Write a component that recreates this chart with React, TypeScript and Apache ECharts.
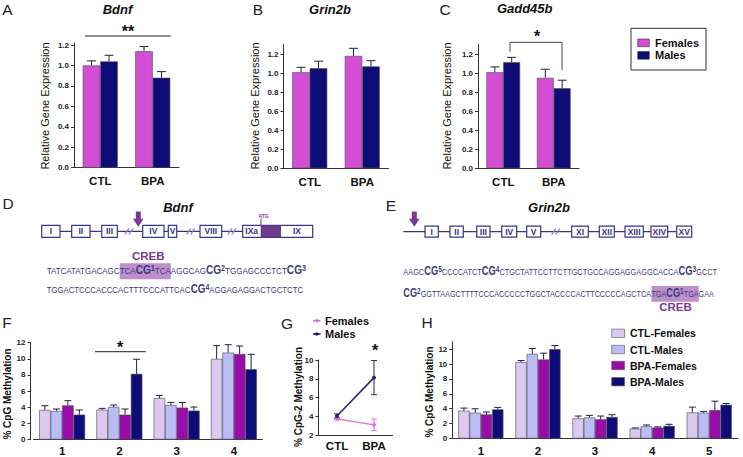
import React, { useEffect, useRef } from 'react';
import * as echarts from 'echarts';

const FONT = '"Liberation Sans", Arial, Helvetica, sans-serif';

// ---------- Panels A–C : relative gene expression ----------
const exprCategories = ['CTL', 'BPA'];
const bdnfFemales = [1.0, 1.14];
const bdnfFemalesSem = [0.045, 0.045];
const bdnfMales = [1.04, 0.88];
const bdnfMalesSem = [0.06, 0.06];
const grin2bFemales = [1.01, 1.18];
const grin2bFemalesSem = [0.05, 0.08];
const grin2bMales = [1.05, 1.07];
const grin2bMalesSem = [0.075, 0.06];
const gadd45bFemales = [1.01, 0.95];
const gadd45bFemalesSem = [0.055, 0.09];
const gadd45bMales = [1.115, 0.84];
const gadd45bMalesSem = [0.05, 0.085];
const exprTicks = [0, 0.2, 0.4, 0.6, 0.8, 1.0, 1.2];

// ---------- Panel F : Bdnf CpG methylation ----------
const bdnfCpgCategories = ['1', '2', '3', '4'];
const bdnfCtlFemales = [3.66, 3.7, 5.14, 9.99];
const bdnfCtlFemalesSem = [0.53, 0.16, 0.33, 1.64];
const bdnfCtlMales = [3.53, 4.03, 4.27, 10.77];
const bdnfCtlMalesSem = [0.25, 0.24, 0.33, 0.98];
const bdnfBpaFemales = [4.23, 3.08, 3.95, 10.6];
const bdnfBpaFemalesSem = [0.58, 0.7, 0.65, 0.99];
const bdnfBpaMales = [3.08, 8.14, 3.58, 8.71];
const bdnfBpaMalesSem = [0.58, 1.81, 0.45, 1.85];
const methTicks = [0, 2, 4, 6, 8, 10, 12];

// ---------- Panel G : CpG-2 interaction ----------
const cpg2Categories = ['CTL', 'BPA'];
const cpg2Females = [3.72, 3.08];
const cpg2FemalesSem = [0.12, 0.62];
const cpg2Males = [4.03, 8.12];
const cpg2MalesSem = [0.22, 1.82];
const cpg2Ticks = [2, 4, 6, 8, 10];

// ---------- Panel H : Grin2b CpG methylation ----------
const grin2bCpgCategories = ['1', '2', '3', '4', '5'];
const grinCtlFemales = [3.73, 10.27, 2.71, 1.33, 3.51];
const grinCtlFemalesSem = [0.36, 0.22, 0.31, 0.09, 0.71];
const grinCtlMales = [3.47, 11.38, 2.84, 1.64, 3.47];
const grinCtlMalesSem = [0.53, 0.71, 0.27, 0.18, 0.17];
const grinBpaFemales = [3.24, 10.62, 2.58, 1.47, 3.82];
const grinBpaFemalesSem = [0.32, 0.85, 0.44, 0.09, 1.2];
const grinBpaMales = [3.91, 12.0, 2.89, 1.69, 4.53];
const grinBpaMalesSem = [0.27, 0.49, 0.31, 0.22, 0.18];

const sexLabels = ['Females', 'Males'];
const groupLabels = ['CTL-Females', 'CTL-Males', 'BPA-Females', 'BPA-Males'];

// ---------- Panels D–E : gene maps and sequences ----------
const bdnfExons = ['I', 'II', 'III', 'IV', 'V', 'VIII', 'IXa', 'IX'];
const grin2bExons = ['I', 'II', 'III', 'IV', 'V', 'XI', 'XII', 'XIII', 'XIV', 'XV'];
type Seg = [string, string];
const bdnfSeq1: Seg[] = [['n', 'TATCATATGACAGC'], ['n', 'TCA'], ['b', 'CG'], ['s', '1'], ['n', 'TCA'], ['n', 'AGGCAG'], ['b', 'CG'], ['s', '2'], ['n', 'TGGAGCCCTCT'], ['b', 'CG'], ['s', '3']];
const bdnfSeq2: Seg[] = [['n', 'TGGACTCCCACCCACTTTCCCATTCAC'], ['b', 'CG'], ['s', '4'], ['n', 'AGGAGAGGACTGCTCTC']];
const grin2bSeq1: Seg[] = [['n', 'AAGC'], ['b', 'CG'], ['s', '5'], ['n', 'CCCCATCT'], ['b', 'CG'], ['s', '4'], ['n', 'CTGCTATTCCTTCTTGCTGCCAGGAGGAGGCACCA'], ['b', 'CG'], ['s', '3'], ['n', 'GCCT']];
const grin2bSeq2: Seg[] = [['b', 'CG'], ['s', '2'], ['n', 'GGTTAAGCTTTTCCCACCCCCTGGCTACCCCACTTCCCCCAGCTCA'], ['n', 'TGA'], ['b', 'CG'], ['s', '1'], ['n', 'TGA'], ['n', 'GAA']];

// ---------- colours ----------
const PINK = '#d34ed3';
const NAVY = '#0e0c76';
const CTLF = '#ddc8ee';
const CTLM = '#b9bdf3';
const BPAF = '#9a0ca8';
const BPAM = '#0e0c76';
const INK = '#3b3586';
const SEQ = '#3d3a7e';
const PURPLE = '#7a3a93';
const HL = '#bb90cb';
const ERR = '#23213f';
const AX = '#333333';

function errRenderer(n: number, gap: number, cap: number, color: string, twoSided: boolean) {
  return (params: any, api: any) => {
    const cat = api.value(0);
    const si = api.value(1);
    const lo = api.value(2);
    const hi = api.value(3);
    const band = api.size([1, 0])[0];
    const bw = (band * (1 - gap)) / n;
    const p0 = api.coord([cat, lo]);
    const p1 = api.coord([cat, hi]);
    const x = p0[0] + (si - (n - 1) / 2) * bw;
    const st = { stroke: color, lineWidth: 1 };
    const children: any[] = [
      { type: 'line', shape: { x1: x, y1: p0[1], x2: x, y2: p1[1] }, style: st },
      { type: 'line', shape: { x1: x - cap, y1: p1[1], x2: x + cap, y2: p1[1] }, style: st },
    ];
    if (twoSided) children.push({ type: 'line', shape: { x1: x - cap, y1: p0[1], x2: x + cap, y2: p0[1] }, style: st });
    return { type: 'group', children };
  };
}

function barSeries(g: number, name: string, data: number[], color: string, gap: number) {
  return {
    type: 'bar', name, xAxisIndex: g, yAxisIndex: g, data, silent: true,
    barGap: '0%', barCategoryGap: gap * 100 + '%',
    itemStyle: { color, borderColor: '#4a4a5e', borderWidth: 0.6 },
  };
}

function errSeries(g: number, groups: [number[], number[]][], gap: number, cap: number) {
  const data: number[][] = [];
  groups.forEach(([m, s], si) => m.forEach((v, i) => data.push([i, si, v, v + s[i]])));
  return {
    type: 'custom', xAxisIndex: g, yAxisIndex: g, z: 3, silent: true,
    renderItem: errRenderer(groups.length, gap, cap, ERR, false),
    encode: { x: 0, y: [2, 3] }, data,
  };
}

function catAxis(g: number, data: string[], margin: number) {
  return {
    type: 'category', gridIndex: g, data,
    axisLine: { lineStyle: { color: AX, width: 1 } },
    axisTick: { show: false },
    axisLabel: { margin, fontFamily: FONT, fontWeight: 'bold', fontSize: 11.5, color: '#111' },
    splitLine: { show: false },
  };
}

function valAxis(g: number, min: number, max: number, ticks: number[], dec: number) {
  return {
    type: 'value', gridIndex: g, min, max, splitLine: { show: false },
    axisLine: { show: true, lineStyle: { color: AX, width: 1 } },
    axisTick: { show: true, length: 3, lineStyle: { color: AX, width: 1 }, customValues: ticks },
    axisLabel: {
      customValues: ticks, margin: 5, fontFamily: FONT, fontWeight: 'bold', fontSize: 8, color: '#222',
      formatter: (v: number) => v.toFixed(dec),
    },
  };
}

function txt(x: number, y: number, text: string, size: number, o: any = {}) {
  return {
    type: 'text', x, y, rotation: o.rotation || 0, z: 20, silent: true,
    style: {
      text, fill: o.color || '#111', fontSize: size, fontWeight: o.weight || 'normal',
      fontStyle: o.italic ? 'italic' : 'normal', fontFamily: FONT,
      align: o.align || 'center', textAlign: o.align || 'center',
      verticalAlign: 'middle', textVerticalAlign: 'middle',
    },
  };
}

function rect(x: number, y: number, w: number, h: number, fill: string, stroke?: string, lw = 1, z = 15) {
  return { type: 'rect', z, silent: true, shape: { x, y, width: w, height: h }, style: { fill, stroke: stroke || 'none', lineWidth: lw } };
}
function ln(x1: number, y1: number, x2: number, y2: number, stroke: string, lw = 1, z = 15) {
  return { type: 'line', z, silent: true, shape: { x1, y1, x2, y2 }, style: { stroke, lineWidth: lw } };
}

const SEQ_FONTS: Record<string, { size: number; weight: string }> = {
  n: { size: 9.5, weight: 'normal' },
  b: { size: 12, weight: 'bold' },
  s: { size: 8.5, weight: 'bold' },
};
let measureCtx: CanvasRenderingContext2D | null = null;
function measure(text: string, k: string) {
  if (!measureCtx) measureCtx = document.createElement('canvas').getContext('2d');
  const f = SEQ_FONTS[k];
  measureCtx!.font = `${f.weight} ${f.size}px ${FONT}`;
  return measureCtx!.measureText(text).width;
}
const seqRich = {
  n: { fontSize: 9.5, fontWeight: 'normal', fontFamily: FONT, fill: SEQ, color: SEQ, verticalAlign: 'bottom' },
  b: { fontSize: 12, fontWeight: 'bold', fontFamily: FONT, fill: SEQ, color: SEQ, verticalAlign: 'bottom' },
  s: { fontSize: 8.5, fontWeight: 'bold', fontFamily: FONT, fill: SEQ, color: SEQ, verticalAlign: 'top' },
};
function seqLine(segs: Seg[], x0: number, y: number, targetW: number, hl?: [number, number], hlBox?: [number, number]) {
  const widths = segs.map(([k, t]) => measure(t, k));
  const total = widths.reduce((a, b) => a + b, 0);
  const sc = targetW / total;
  const els: any[] = [];
  if (hl && hlBox) {
    const s = widths.slice(0, hl[0]).reduce((a, b) => a + b, 0);
    const e = widths.slice(0, hl[1] + 1).reduce((a, b) => a + b, 0);
    els.push(rect(x0 + s * sc, hlBox[0], (e - s) * sc, hlBox[1] - hlBox[0], HL, undefined, 1, 12));
  }
  els.push({
    type: 'text', x: x0, y: y - 1, scaleX: sc, z: 20, silent: true,
    style: {
      text: segs.map(([k, t]) => `{${k}|${t}}`).join(''), rich: seqRich,
      fill: SEQ, fontFamily: FONT, fontSize: 9.5,
      align: 'left', textAlign: 'left', verticalAlign: 'middle', textVerticalAlign: 'middle',
    },
  });
  return els;
}

function exonBox(label: string, x0: number, x1: number, y0: number, h: number) {
  return [
    rect(x0, y0, x1 - x0, h, '#ffffff', INK, 1.2, 14),
    txt((x0 + x1) / 2, y0 + h / 2, label, 8.5, { weight: 'bold', color: INK }),
  ];
}
function breakMark(cx: number, y: number) {
  return [
    ln(cx - 5, y + 3, cx - 1, y - 3, '#8d80c0', 1.2, 16),
    ln(cx - 1, y + 3, cx + 3, y - 3, '#8d80c0', 1.2, 16),
  ];
}
function downArrow(cx: number, yTop: number, yBot: number) {
  return {
    type: 'polygon', z: 16, silent: true,
    shape: { points: [[cx - 2.5, yTop], [cx + 2.5, yTop], [cx + 2.5, yBot - 8], [cx + 5.3, yBot - 8], [cx, yBot], [cx - 5.3, yBot - 8], [cx - 2.5, yBot - 8]] },
    style: { fill: PURPLE },
  };
}

function buildGraphics() {
  const g: any[] = [];
  // panel letters
  [['A', 7.5, 9], ['B', 258, 9], ['C', 445, 9], ['D', 8, 203], ['E', 391, 205], ['F', 7, 322], ['G', 287, 323], ['H', 427, 322]].forEach(([t, x, y]) =>
    g.push(txt(x as number, y as number, t as string, 15.5, { color: '#222' })));
  // titles
  g.push(txt(117.5, 9, 'Bdnf', 13, { weight: 'bold', italic: true }));
  g.push(txt(330, 9, 'Grin2b', 13, { weight: 'bold', italic: true }));
  g.push(txt(524.7, 8.5, 'Gadd45b', 13, { weight: 'bold', italic: true }));
  g.push(txt(178, 207.5, 'Bdnf', 13, { weight: 'bold', italic: true }));
  g.push(txt(549, 207.5, 'Grin2b', 13, { weight: 'bold', italic: true }));
  // y-axis names
  g.push(txt(45, 106, 'Relative Gene Expression', 11, { rotation: Math.PI / 2 }));
  g.push(txt(255, 106, 'Relative Gene Expression', 11, { rotation: Math.PI / 2 }));
  g.push(txt(446.5, 106, 'Relative Gene Expression', 11, { rotation: Math.PI / 2 }));
  g.push(txt(7.5, 394, '% CpG Methylation', 10, { rotation: Math.PI / 2, weight: 'bold' }));
  g.push(txt(298.3, 397, '% CpG-2 Methylation', 10, { rotation: Math.PI / 2, weight: 'bold' }));
  g.push(txt(429, 392, '% CpG Methylation', 10, { rotation: Math.PI / 2, weight: 'bold' }));
  // significance
  g.push(ln(85, 36, 170.7, 36, '#222', 1));
  g.push(txt(128, 31, '**', 16, { weight: 'bold' }));
  g.push({ type: 'polyline', z: 15, silent: true, shape: { points: [[510, 51.7], [510, 42.3], [562, 42.3], [562, 70]] }, style: { stroke: '#444', lineWidth: 1, fill: 'none' } });
  g.push(txt(537, 36.5, '*', 16, { weight: 'bold' }));
  g.push(ln(95, 351.7, 145.7, 351.7, '#222', 1));
  g.push(txt(120, 347, '*', 16, { weight: 'bold' }));
  g.push(txt(375, 350.5, '*', 16, { weight: 'bold' }));
  // legend C
  g.push(rect(631, 28.3, 75, 41.7, 'none', '#333', 1));
  g.push(rect(637.7, 39, 11.6, 7.7, PINK, '#333', 0.6));
  g.push(rect(637.7, 51.5, 11.6, 7.7, NAVY, '#333', 0.6));
  g.push(txt(655, 42.8, sexLabels[0], 11, { weight: 'bold', align: 'left' }));
  g.push(txt(655, 55.3, sexLabels[1], 11, { weight: 'bold', align: 'left' }));
  // legend G
  g.push(ln(313, 320.7, 320.5, 320.7, '#e070d8', 1.5));
  g.push({ type: 'circle', z: 16, silent: true, shape: { cx: 316.8, cy: 320.7, r: 1.6 }, style: { fill: '#e070d8' } });
  g.push(ln(313, 334, 320.5, 334, NAVY, 1.5));
  g.push({ type: 'circle', z: 16, silent: true, shape: { cx: 316.8, cy: 334, r: 1.6 }, style: { fill: NAVY } });
  g.push(txt(325, 320.7, sexLabels[0], 11, { weight: 'bold', align: 'left' }));
  g.push(txt(325, 334, sexLabels[1], 11, { weight: 'bold', align: 'left' }));
  // legend H
  const hCols = [CTLF, CTLM, BPAF, BPAM];
  const hY = [333.3, 349.5, 365.5, 381.7];
  groupLabels.forEach((lab, i) => {
    g.push(rect(611.7, hY[i] - 4.2, 12.8, 8.4, hCols[i], '#555', 0.6));
    g.push(txt(630, hY[i], lab, 10.5, { weight: 'bold', align: 'left' }));
  });

  // --- D gene map
  const dY = 231.3, dTop = 225.3, dH = 12;
  g.push(ln(41.7, dY, 312.7, dY, INK, 1.2, 13));
  const dPos: [number, number][] = [[41.7, 60], [71.7, 90], [101.7, 117.3], [142.7, 164], [168.3, 176.7], [200, 221.7]];
  dPos.forEach(([a, b], i) => g.push(...exonBox(bdnfExons[i], a, b, dTop, dH)));
  g.push(rect(242.7, dTop, 70, dH, '#ffffff', INK, 1.2, 14));
  g.push(rect(260.7, dTop, 20.3, dH, '#6a3a8c', undefined, 1, 15));
  g.push(txt(251.7, dTop + dH / 2, bdnfExons[6], 8.5, { weight: 'bold', color: INK }));
  g.push(txt(297, dTop + dH / 2, bdnfExons[7], 8.5, { weight: 'bold', color: INK }));
  [130, 191.7, 233].forEach((cx) => g.push(...breakMark(cx, dY)));
  g.push(txt(263.5, 215.5, 'ATG', 5, { weight: 'bold', color: PURPLE }));
  g.push(ln(261, 218.5, 261, dTop, PURPLE, 1));
  g.push(downArrow(138.3, 211.5, 226.8));
  g.push(txt(148.3, 255.8, 'CREB', 11.5, { weight: 'bold', color: PURPLE }));
  g.push(...seqLine(bdnfSeq1, 46.7, 270.7, 259.3, [1, 4], [263.3, 279.3]));
  g.push(...seqLine(bdnfSeq2, 46.7, 290, 256.6));

  // --- E gene map
  const eY = 231.7, eTop = 226.2, eH = 11;
  g.push(ln(403.3, eY, 691.7, eY, INK, 1.2, 13));
  const ePos: [number, number][] = [[425, 438.3], [450, 463.3], [476.7, 490], [501.7, 516.7], [526.7, 540.7], [571.7, 588.3], [599.3, 614.3], [625, 643.3], [651, 667.7], [676.7, 691.7]];
  ePos.forEach(([a, b], i) => g.push(...exonBox(grin2bExons[i], a, b, eTop, eH)));
  g.push(...breakMark(556.7, eY));
  g.push(downArrow(414.3, 211.5, 226.8));
  g.push(...seqLine(grin2bSeq1, 403.3, 271.7, 313.7));
  g.push(...seqLine(grin2bSeq2, 403.3, 293.3, 310.7, [3, 6], [286, 301.7]));
  g.push(txt(675.5, 306.7, 'CREB', 11.5, { weight: 'bold', color: PURPLE }));
  return g;
}

function buildOption() {
  const gapA = 1 / 3;
  const gapF = 0.197;
  const gapH = 0.21;
  const series: any[] = [
    // A
    barSeries(0, 'Females', bdnfFemales, PINK, gapA),
    barSeries(0, 'Males', bdnfMales, NAVY, gapA),
    errSeries(0, [[bdnfFemales, bdnfFemalesSem], [bdnfMales, bdnfMalesSem]], gapA, 4.5),
    // B
    barSeries(1, 'Females', grin2bFemales, PINK, gapA),
    barSeries(1, 'Males', grin2bMales, NAVY, gapA),
    errSeries(1, [[grin2bFemales, grin2bFemalesSem], [grin2bMales, grin2bMalesSem]], gapA, 4.5),
    // C
    barSeries(2, 'Females', gadd45bFemales, PINK, gapA),
    barSeries(2, 'Males', gadd45bMales, NAVY, gapA),
    errSeries(2, [[gadd45bFemales, gadd45bFemalesSem], [gadd45bMales, gadd45bMalesSem]], gapA, 4.5),
    // F
    barSeries(3, groupLabels[0], bdnfCtlFemales, CTLF, gapF),
    barSeries(3, groupLabels[1], bdnfCtlMales, CTLM, gapF),
    barSeries(3, groupLabels[2], bdnfBpaFemales, BPAF, gapF),
    barSeries(3, groupLabels[3], bdnfBpaMales, BPAM, gapF),
    errSeries(3, [[bdnfCtlFemales, bdnfCtlFemalesSem], [bdnfCtlMales, bdnfCtlMalesSem], [bdnfBpaFemales, bdnfBpaFemalesSem], [bdnfBpaMales, bdnfBpaMalesSem]], gapF, 3.5),
    // G
    {
      type: 'line', name: 'Females ', xAxisIndex: 4, yAxisIndex: 4, data: cpg2Females, silent: true,
      symbol: 'circle', symbolSize: 4, lineStyle: { color: '#e070d8', width: 1.5 }, itemStyle: { color: '#e070d8' },
    },
    {
      type: 'line', name: 'Males ', xAxisIndex: 4, yAxisIndex: 4, data: cpg2Males, silent: true,
      symbol: 'circle', symbolSize: 4, lineStyle: { color: '#26246e', width: 1.5 }, itemStyle: { color: '#26246e' },
    },
    {
      type: 'custom', xAxisIndex: 4, yAxisIndex: 4, z: 3, silent: true,
      renderItem: errRenderer(1, 0, 3, '#e070d8', true), encode: { x: 0, y: [2, 3] },
      data: cpg2Females.map((v, i) => [i, 0, v - cpg2FemalesSem[i], v + cpg2FemalesSem[i]]),
    },
    {
      type: 'custom', xAxisIndex: 4, yAxisIndex: 4, z: 3, silent: true,
      renderItem: errRenderer(1, 0, 3, '#26246e', true), encode: { x: 0, y: [2, 3] },
      data: cpg2Males.map((v, i) => [i, 0, v - cpg2MalesSem[i], v + cpg2MalesSem[i]]),
    },
    // H
    barSeries(5, groupLabels[0] + ' ', grinCtlFemales, CTLF, gapH),
    barSeries(5, groupLabels[1] + ' ', grinCtlMales, CTLM, gapH),
    barSeries(5, groupLabels[2] + ' ', grinBpaFemales, BPAF, gapH),
    barSeries(5, groupLabels[3] + ' ', grinBpaMales, BPAM, gapH),
    errSeries(5, [[grinCtlFemales, grinCtlFemalesSem], [grinCtlMales, grinCtlMalesSem], [grinBpaFemales, grinBpaFemalesSem], [grinBpaMales, grinBpaMalesSem]], gapH, 3.5),
  ];
  return {
    animation: false,
    backgroundColor: '#ffffff',
    grid: [
      { left: 74, top: 43, width: 105, height: 124.7 },
      { left: 283.5, top: 44.5, width: 105, height: 123.8 },
      { left: 478, top: 44.5, width: 101, height: 123.8 },
      { left: 33.5, top: 342.7, width: 229, height: 97.3 },
      { left: 318.5, top: 360, width: 74, height: 75 },
      { left: 452.3, top: 341.8, width: 285.5, height: 97.5 },
    ],
    xAxis: [
      catAxis(0, exprCategories, 7.5),
      catAxis(1, exprCategories, 7.5),
      catAxis(2, exprCategories, 7.5),
      catAxis(3, bdnfCpgCategories, 5.5),
      catAxis(4, cpg2Categories, 5),
      catAxis(5, grin2bCpgCategories, 6.5),
    ],
    yAxis: [
      valAxis(0, 0, 1.22, exprTicks, 1),
      valAxis(1, 0, 1.3, exprTicks, 1),
      valAxis(2, 0, 1.3, exprTicks, 1),
      { ...valAxis(3, 0, 12, methTicks, 0), offset: 3 },
      valAxis(4, 2, 10, cpg2Ticks, 0),
      valAxis(5, 0, 13, methTicks, 0),
    ],
    series,
    graphic: { elements: buildGraphics() },
  };
}

export default function App() {
  const ref = useRef<HTMLDivElement>(null);
  useEffect(() => {
    document.body.style.margin = '0';
    const chart = echarts.init(ref.current!, null, { renderer: 'svg' });
    chart.setOption(buildOption() as any);
    return () => chart.dispose();
  }, []);
  return <div ref={ref} style={{ width: 743, height: 457, background: '#fff' }} />;
}
